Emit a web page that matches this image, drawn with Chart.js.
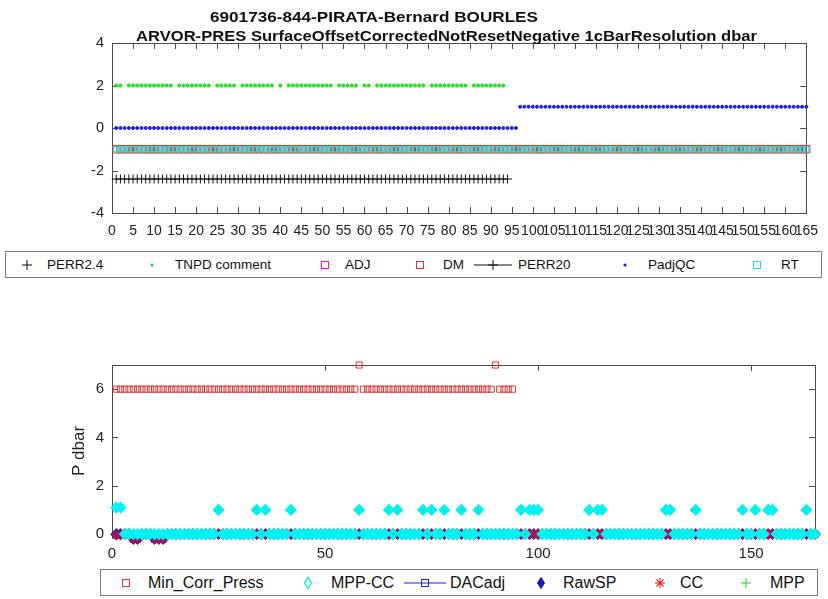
<!DOCTYPE html>
<html>
<head>
<meta charset="utf-8">
<script src="https://cdn.jsdelivr.net/npm/chart.js@4.4.0/dist/chart.umd.min.js"></script>
<style>
  body { margin: 0; background: #fff; width: 828px; height: 599px; position: relative; overflow: hidden;
         font-family: "Liberation Sans", Arial, Helvetica, sans-serif; color: #111; }
  canvas { position: absolute; left: 0; }
  #top-chart { top: 0; }
  #bot-chart { top: 300px; }
  .title { position: absolute; font-weight: bold; font-size: 15px; white-space: pre; transform-origin: left center; line-height: 18px; }
  .legend-box { position: absolute; border: 1px solid #7a7a7a; background: #fff; box-sizing: border-box; }
  .lg-text { position: absolute; white-space: pre; line-height: 18px; }
  .lg-sym { position: absolute; }
</style>
</head>
<body>
<canvas id="top-chart" width="828" height="250"></canvas>
<canvas id="bot-chart" width="828" height="268"></canvas>
<div class="title" id="title1" data-left="210" data-width="328" style="top:8px">6901736-844-PIRATA-Bernard BOURLES</div>
<div class="title" id="title2" data-left="136" data-width="621" style="top:27px">ARVOR-PRES SurfaceOffsetCorrectedNotResetNegative 1cBarResolution dbar</div>
<div id="legends"></div>

<script>
// ==================== DATA ====================
// runs: [first cycle, last cycle, value]
const topXRange = [0, 165, 5];      // min, max, step
const topYRange = [-4, 4, 2];
const topYTickValues = [-4, -2, 0, 2, 4];
const botXRange = [0, 165, 50];
const botYRange = [-0.12, 7, 2];
const botYTickValues = [0, 2, 4, 6];

const perr24Runs = [[1, 94, -2.4]];
const tnpdRuns = [[1, 2, 2], [4, 14, 2], [16, 23, 2], [25, 29, 2], [31, 38, 2], [40, 40, 2], [42, 52, 2],
                  [54, 58, 2], [60, 61, 2], [63, 74, 2], [76, 84, 2], [86, 93, 2]];
const adjRuns = [];
const dmRuns = [[1, 165, -1]];
const perr20Runs = [[1, 94, -20]];
const padjQcRuns = [[1, 96, 0], [97, 165, 1]];
const rtRuns = [[1, 165, -1]];

const minCorrPressRuns = [[1, 57, 6], [58, 58, 7], [59, 89, 6], [90, 90, 7], [91, 94, 6]];
const mppCcRuns = [[1, 2, 1.1], [3, 165, 0]];
const mppCcHighCycles = [25, 34, 36, 42, 58, 65, 67, 73, 75, 78, 82, 86, 96, 98, 99, 100, 112, 114, 115,
                         130, 131, 137, 148, 151, 154, 155, 163];
const dacAdjRuns = [];
const rawSpRuns = [[1, 4, 0], [5, 6, -0.2], [7, 9, 0], [10, 12, -0.2], [13, 165, 0]];
const ccRuns = [[1, 2, -0.05], [3, 4, 0], [5, 6, -0.2], [7, 9, 0], [10, 12, -0.2], [13, 165, 0]];
const mppRuns = [[1, 2, 1.05], [3, 165, 0]];

// ==================== HELPERS ====================
function expandRuns(runs, highCycles, highValue) {
  const pts = [];
  runs.forEach(([first, last, value]) => {
    for (let c = first; c <= last; c++) pts.push({ x: c, y: value });
  });
  if (highCycles) {
    pts.forEach(p => { if (highCycles.includes(p.x)) p.y = highValue; });
  }
  return pts;
}

const AXIS_COLOR = '#4a4a4a';
const TICK_LEN = 6;

// box around the plot with inward ticks on all four sides (MATLAB look)
const boxTicks = {
  id: 'boxTicks',
  beforeDatasetsDraw(chart) {
    const { ctx, chartArea: a, scales: { x, y } } = chart;
    ctx.save();
    ctx.strokeStyle = AXIS_COLOR;
    ctx.lineWidth = 1;
    ctx.strokeRect(Math.round(a.left) + 0.5, Math.round(a.top) + 0.5,
      Math.round(a.right - a.left), Math.round(a.bottom - a.top));
    ctx.beginPath();
    x.ticks.forEach(t => {
      const px = Math.round(x.getPixelForValue(t.value)) + 0.5;
      ctx.moveTo(px, a.bottom); ctx.lineTo(px, a.bottom - TICK_LEN);
      ctx.moveTo(px, a.top); ctx.lineTo(px, a.top + TICK_LEN);
    });
    y.ticks.forEach(t => {
      const py = Math.round(y.getPixelForValue(t.value)) + 0.5;
      ctx.moveTo(a.left, py); ctx.lineTo(a.left + TICK_LEN, py);
      ctx.moveTo(a.right, py); ctx.lineTo(a.right - TICK_LEN, py);
    });
    ctx.stroke();
    ctx.restore();
  }
};

function pointSet(label, data, style, color, radius, extra) {
  return Object.assign({
    label, data,
    pointStyle: style,
    pointRadius: radius,
    pointHoverRadius: radius,
    pointBorderColor: color,
    pointBackgroundColor: 'rgba(0,0,0,0)',
    pointBorderWidth: 1,
    borderColor: color,
    showLine: false,
    clip: false
  }, extra || {});
}

function axisX([min, max, step], size, pad, height) {
  return {
    type: 'linear', min, max,
    grid: { display: false, drawTicks: false },
    border: { display: false },
    ticks: { stepSize: step, autoSkip: false, maxRotation: 0, minRotation: 0, padding: pad,
             color: '#222', font: { size, family: 'Liberation Sans' } },
    afterFit: s => { s.height = height; },
    afterBuildTicks: s => { s.ticks = s.ticks.filter(t => t.value % step === 0); }
  };
}

function axisY([min, max, step], tickValues, size, width, title) {
  return {
    type: 'linear', min, max,
    grid: { display: false, drawTicks: false },
    border: { display: false },
    ticks: { stepSize: step, padding: 8, color: '#222', font: { size, family: 'Liberation Sans' } },
    afterBuildTicks: s => { s.ticks = tickValues.map(v => ({ value: v })); },
    title: title ? { display: true, text: title, color: '#222', padding: { top: 69, bottom: 0 },
                     font: { size: 17, family: 'Liberation Sans' } } : { display: false },
    afterFit: s => { s.width = width; }
  };
}

const baseOptions = (scales, padding) => ({
  responsive: false,
  animation: false,
  devicePixelRatio: 1,
  layout: { padding },
  plugins: { legend: { display: false }, title: { display: false }, tooltip: { enabled: false } },
  scales
});

// ==================== TOP CHART ====================
new Chart(document.getElementById('top-chart'), {
  type: 'scatter',
  data: {
    datasets: [
      pointSet('RT', expandRuns(rtRuns), 'rect', '#22dede', 3.7, { pointBorderWidth: 1.2, order: 1 }),
      pointSet('PadjQC', expandRuns(padjQcRuns), 'circle', '#1c1cf0', 1.5, { pointBackgroundColor: '#1c1cf0', order: 2 }),
      pointSet('PERR20', expandRuns(perr20Runs), 'cross', '#000', 4.5, { showLine: true, borderWidth: 1, clip: 0, order: 3 }),
      pointSet('DM', expandRuns(dmRuns), 'rect', '#f03030', 5.2, { order: 4 }),
      pointSet('ADJ', expandRuns(adjRuns), 'rect', '#ff00ff', 5.6, { order: 5 }),
      pointSet('TNPD comment', expandRuns(tnpdRuns), 'circle', '#22e022', 1.6, { pointBackgroundColor: '#22e022', order: 6 }),
      pointSet('PERR2.4', expandRuns(perr24Runs), 'cross', '#111', 4.5, { order: 7 })
    ]
  },
  options: baseOptions({
    x: axisX(topXRange, 14, 10, 37),
    y: axisY(topYRange, topYTickValues, 14.5, 112, null)
  }, { top: 43, right: 13, left: 0, bottom: 0 }),
  plugins: [boxTicks]
});

// ==================== BOTTOM CHART ====================
new Chart(document.getElementById('bot-chart'), {
  type: 'scatter',
  data: {
    datasets: [
      pointSet('Min_Corr_Press', expandRuns(minCorrPressRuns), 'rect', '#e83030', 4.3, { order: 1 }),
      pointSet('DACadj', expandRuns(dacAdjRuns), 'rect', '#1c1cf0', 4.3, { showLine: true, order: 2 }),
      pointSet('MPP-CC', expandRuns(mppCcRuns, mppCcHighCycles, 1), 'rectRot', '#00f2f2', 3.6,
               { pointBorderWidth: 3.6, order: 3 }),
      pointSet('MPP', expandRuns(mppRuns, mppCcHighCycles, 1), 'cross', '#2ad02a', 1.6, { order: 4 }),
      pointSet('CC', expandRuns(ccRuns), 'star', '#b3124a', 5, { pointBorderWidth: 1.6, order: 5 }),
      pointSet('RawSP', expandRuns(rawSpRuns), 'rectRot', '#2a14c0', 5.5, { pointBackgroundColor: '#2a14c0', order: 6 })
    ]
  },
  options: baseOptions({
    x: axisX(botXRange, 15, 8, 31),
    y: axisY(botYRange, botYTickValues, 15, 112, 'P dbar')
  }, { top: 65, right: 13, left: 0, bottom: 0 }),
  plugins: [boxTicks]
});

// ==================== TITLES ====================
document.querySelectorAll('.title').forEach(el => {
  const left = +el.dataset.left, target = +el.dataset.width;
  const w = el.getBoundingClientRect().width;
  el.style.left = left + 'px';
  el.style.transform = `scaleX(${target / w})`;
});

// ==================== LEGENDS (MATLAB style boxes) ====================
function symbolSvg(kind, color) {
  switch (kind) {
    case 'plus': return `<line x1="5" y1="10" x2="15" y2="10" stroke="${color}"/><line x1="10" y1="5" x2="10" y2="15" stroke="${color}"/>`;
    case 'dot': return `<circle cx="10" cy="10" r="1.6" fill="${color}"/>`;
    case 'square': return `<rect x="6.5" y="6.5" width="7" height="7" fill="none" stroke="${color}"/>`;
    case 'diamond': return `<path d="M10 4.5 L13.5 10 L10 15.5 L6.5 10 Z" fill="none" stroke="${color}" stroke-width="1.3"/>`;
    case 'fdiamond': return `<path d="M10 4.5 L13.5 10 L10 15.5 L6.5 10 Z" fill="${color}" stroke="${color}"/>`;
    case 'star': return `<g stroke="${color}" stroke-width="1.1"><line x1="10" y1="5" x2="10" y2="15"/><line x1="5" y1="10" x2="15" y2="10"/><line x1="6.5" y1="6.5" x2="13.5" y2="13.5"/><line x1="13.5" y1="6.5" x2="6.5" y2="13.5"/></g>`;
  }
  return '';
}

function buildLegend(box, fontSize, items) {
  const host = document.getElementById('legends');
  const b = document.createElement('div');
  b.className = 'legend-box';
  Object.assign(b.style, { left: box.left + 'px', top: box.top + 'px', width: box.width + 'px', height: box.height + 'px' });
  host.appendChild(b);
  const cy = box.top + box.height / 2;
  items.forEach(it => {
    const svg = document.createElementNS('http://www.w3.org/2000/svg', 'svg');
    svg.setAttribute('class', 'lg-sym');
    svg.setAttribute('height', 20);
    svg.style.top = (cy - 10) + 'px';
    if (it.line) {
      const w = it.line[1] - it.line[0];
      svg.setAttribute('width', w);
      svg.style.left = it.line[0] + 'px';
      svg.innerHTML = `<line x1="0" y1="10" x2="${w}" y2="10" stroke="${it.color}" stroke-width="1"/>` +
        `<g transform="translate(${it.sym - it.line[0] - 10},0)">${symbolSvg(it.kind, it.color)}</g>`;
    } else {
      svg.setAttribute('width', 20);
      svg.style.left = (it.sym - 10) + 'px';
      svg.innerHTML = symbolSvg(it.kind, it.color);
    }
    host.appendChild(svg);
    const t = document.createElement('div');
    t.className = 'lg-text';
    t.textContent = it.text;
    t.style.fontSize = fontSize + 'px';
    t.style.left = it.textX + 'px';
    t.style.top = (cy - 9) + 'px';
    host.appendChild(t);
  });
}

buildLegend({ left: 5, top: 251, width: 817, height: 27 }, 13.5, [
  { kind: 'plus', color: '#111', sym: 27, text: 'PERR2.4', textX: 47 },
  { kind: 'dot', color: '#22e022', sym: 152, text: 'TNPD comment', textX: 175 },
  { kind: 'square', color: '#ff00ff', sym: 325, text: 'ADJ', textX: 345 },
  { kind: 'square', color: '#f03030', sym: 420, text: 'DM', textX: 443 },
  { kind: 'plus', color: '#111', sym: 493, line: [474, 512], text: 'PERR20', textX: 518 },
  { kind: 'dot', color: '#1c1cf0', sym: 625, text: 'PadjQC', textX: 648 },
  { kind: 'square', color: '#22dede', sym: 757, text: 'RT', textX: 781 }
]);

buildLegend({ left: 100, top: 569, width: 718, height: 27 }, 16, [
  { kind: 'square', color: '#e83030', sym: 126, text: 'Min_Corr_Press', textX: 148 },
  { kind: 'diamond', color: '#00e8e8', sym: 308, text: 'MPP-CC', textX: 331 },
  { kind: 'square', color: '#1c1cf0', sym: 425, line: [404, 446], text: 'DACadj', textX: 450 },
  { kind: 'fdiamond', color: '#1c14c8', sym: 541, text: 'RawSP', textX: 563 },
  { kind: 'star', color: '#ee2020', sym: 660, text: 'CC', textX: 680 },
  { kind: 'plus', color: '#22cc22', sym: 746, text: 'MPP', textX: 770 }
]);
</script>
</body>
</html>
